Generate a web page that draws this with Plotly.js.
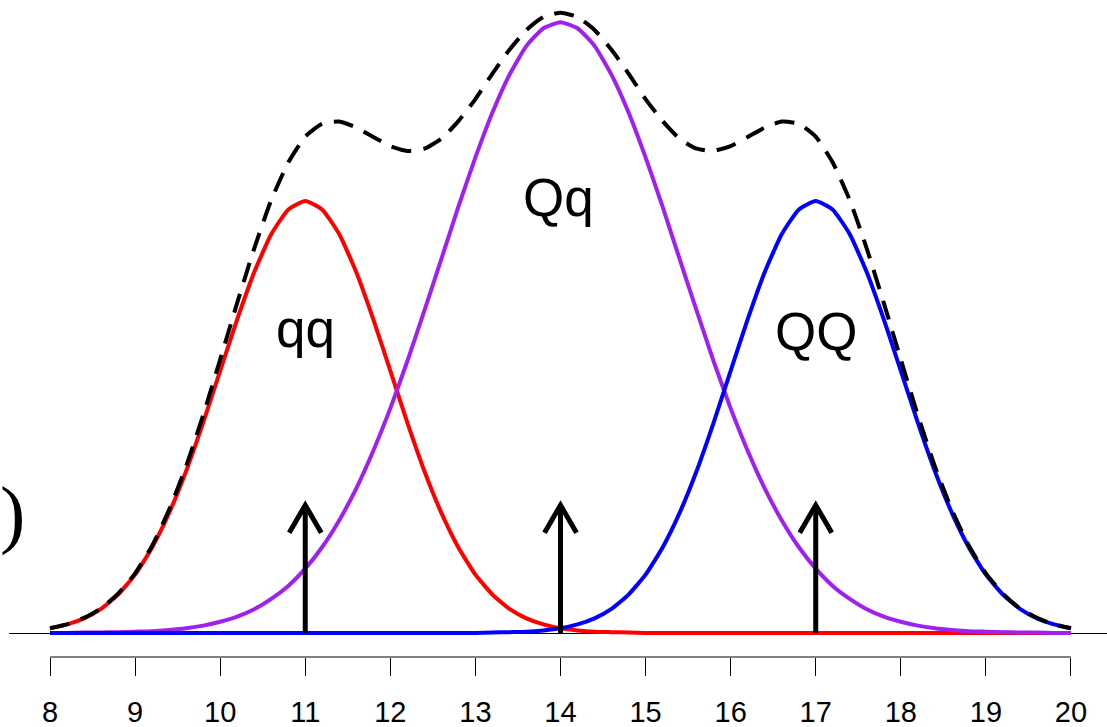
<!DOCTYPE html>
<html>
<head>
<meta charset="utf-8">
<script src="https://cdn.plot.ly/plotly-3.0.1.min.js"></script>
<style>
  html, body { margin: 0; padding: 0; background: #ffffff; }
  #chart { width: 1107px; height: 727px; }
</style>
</head>
<body>
<div id="chart"></div>
<script>
// Trait value grid shared by all curves
const traitX = [
  8.0, 8.2, 8.4, 8.6, 8.8, 9.0, 9.2, 9.4, 9.6, 9.8,
  10.0, 10.2, 10.4, 10.6, 10.8, 11.0, 11.2, 11.4, 11.6, 11.8,
  12.0, 12.2, 12.4, 12.6, 12.8, 13.0, 13.2, 13.4, 13.6, 13.8,
  14.0, 14.2, 14.4, 14.6, 14.8, 15.0, 15.2, 15.4, 15.6, 15.8,
  16.0, 16.2, 16.4, 16.6, 16.8, 17.0, 17.2, 17.4, 17.6, 17.8,
  18.0, 18.2, 18.4, 18.6, 18.8, 19.0, 19.2, 19.4, 19.6, 19.8,
  20.0
];

// Genotype qq
const qqDensity = [
  0.011, 0.020, 0.034, 0.056, 0.089, 0.135, 0.198, 0.278, 0.375, 0.487,
  0.607, 0.726, 0.835, 0.923, 0.980, 1.000, 0.980, 0.923, 0.835, 0.726,
  0.607, 0.487, 0.375, 0.278, 0.198, 0.135, 0.089, 0.056, 0.034, 0.020,
  0.011, 0.006, 0.003, 0.002, 0.001, 0.000, 0.000, 0.000, 0.000, 0.000,
  0.000, 0.000, 0.000, 0.000, 0.000, 0.000, 0.000, 0.000, 0.000, 0.000,
  0.000, 0.000, 0.000, 0.000, 0.000, 0.000, 0.000, 0.000, 0.000, 0.000,
  0.000
];

// Genotype Qq
const QqDensity = [
  0.000, 0.000, 0.001, 0.001, 0.002, 0.003, 0.004, 0.007, 0.011, 0.017,
  0.026, 0.038, 0.055, 0.079, 0.109, 0.149, 0.199, 0.261, 0.335, 0.422,
  0.520, 0.629, 0.746, 0.866, 0.987, 1.101, 1.205, 1.292, 1.359, 1.400,
  1.414, 1.400, 1.359, 1.292, 1.205, 1.101, 0.987, 0.866, 0.746, 0.629,
  0.520, 0.422, 0.335, 0.261, 0.199, 0.149, 0.109, 0.079, 0.055, 0.038,
  0.026, 0.017, 0.011, 0.007, 0.004, 0.003, 0.002, 0.001, 0.001, 0.000,
  0.000
];

// Genotype QQ
const QQDensity = [
  0.000, 0.000, 0.000, 0.000, 0.000, 0.000, 0.000, 0.000, 0.000, 0.000,
  0.000, 0.000, 0.000, 0.000, 0.000, 0.000, 0.000, 0.000, 0.000, 0.000,
  0.000, 0.000, 0.000, 0.000, 0.000, 0.000, 0.001, 0.002, 0.003, 0.006,
  0.011, 0.020, 0.034, 0.056, 0.089, 0.135, 0.198, 0.278, 0.375, 0.487,
  0.607, 0.726, 0.835, 0.923, 0.980, 1.000, 0.980, 0.923, 0.835, 0.726,
  0.607, 0.487, 0.375, 0.278, 0.198, 0.135, 0.089, 0.056, 0.034, 0.020,
  0.011
];

// Population mixture (all genotypes together)
const mixtureDensity = [
  0.011, 0.020, 0.035, 0.057, 0.091, 0.138, 0.202, 0.285, 0.386, 0.504,
  0.633, 0.764, 0.890, 1.002, 1.089, 1.149, 1.179, 1.184, 1.170, 1.148,
  1.127, 1.116, 1.121, 1.144, 1.185, 1.236, 1.295, 1.350, 1.396, 1.426,
  1.436, 1.426, 1.396, 1.350, 1.295, 1.236, 1.185, 1.144, 1.121, 1.116,
  1.127, 1.148, 1.170, 1.184, 1.179, 1.149, 1.089, 1.002, 0.890, 0.764,
  0.633, 0.504, 0.386, 0.285, 0.202, 0.138, 0.091, 0.057, 0.035, 0.020,
  0.011
];

// Genotypic values marked by arrows
const genotypeLabels = ["qq", "Qq", "QQ"];
const genotypeMeans = [11, 14, 17];
const arrowHeight = 0.296;

// Where each genotype name sits
const labelX = [11, 13.98, 17];
const labelY = [0.706, 1.007, 0.697];

// Axis ticks
const tickValues = [8, 9, 10, 11, 12, 13, 14, 15, 16, 17, 18, 19, 20];
const tickText = ["8", "9", "10", "11", "12", "13", "14", "15", "16", "17", "18", "19", "20"];

// ---- layout geometry ----
const W = 1107, H = 727;
const margin = { l: 9, r: 0, t: 0, b: 70 };
const xRange = [7.518, 20.4235];
const yRange = [-0.05556, 1.46528];
const plotW = W - margin.l - margin.r;
const plotH = H - margin.t - margin.b;
const pxPerX = plotW / (xRange[1] - xRange[0]);
const pxPerY = plotH / (yRange[1] - yRange[0]);

// arrow head size in pixels (30 degree open head)
const headLenPx = 32;
const headDx = headLenPx * Math.sin(Math.PI / 6) / pxPerX;
const headDy = headLenPx * Math.cos(Math.PI / 6) / pxPerY;

const fontFamily = "Liberation Sans, Arial, sans-serif";
const curveShape = { shape: "spline", smoothing: 0.5 };

const traces = [
  { x: traitX, y: qqDensity, mode: "lines", line: Object.assign({ color: "#FF0000", width: 4 }, curveShape), hoverinfo: "skip" },
  { x: traitX, y: QqDensity, mode: "lines", line: Object.assign({ color: "#A020F0", width: 4 }, curveShape), hoverinfo: "skip" },
  { x: traitX, y: QQDensity, mode: "lines", line: Object.assign({ color: "#0000FF", width: 4 }, curveShape), hoverinfo: "skip" },
  { x: traitX, y: mixtureDensity, mode: "lines", line: Object.assign({ color: "#000000", width: 4, dash: "20px,12px" }, curveShape), hoverinfo: "skip" }
];

genotypeMeans.forEach(function (m) {
  traces.push({
    x: [m, m, null, m - headDx, m, m + headDx],
    y: [0, arrowHeight, null, arrowHeight - headDy, arrowHeight, arrowHeight - headDy],
    mode: "lines",
    line: { color: "#000000", width: 5 },
    hoverinfo: "skip"
  });
});

const annotations = genotypeLabels.map(function (t, i) {
  return {
    x: labelX[i], y: labelY[i], xref: "x", yref: "y",
    text: t, showarrow: false, xanchor: "center", yanchor: "middle",
    font: { family: fontFamily, size: 53, color: "#000000" }
  };
});

// closing bracket of the side label at the left edge
annotations.push({
  x: (12 - margin.l) / plotW, y: (H - margin.b - 513) / plotH,
  xref: "paper", yref: "paper", text: ")", showarrow: false,
  xanchor: "center", yanchor: "middle",
  font: { family: "Liberation Serif, Times New Roman, serif", size: 76, color: "#000000" }
});

const layout = {
  width: W, height: H,
  margin: margin,
  paper_bgcolor: "#ffffff",
  plot_bgcolor: "#ffffff",
  showlegend: false,
  xaxis: {
    range: xRange, showgrid: false, zeroline: false, showline: false,
    tickmode: "array", tickvals: tickValues, ticktext: tickText,
    ticks: "outside", ticklen: 18, tickwidth: 1, tickcolor: "#000000",
    ticklabelstandoff: 11,
    tickfont: { family: fontFamily, size: 29, color: "#000000" },
    fixedrange: true
  },
  yaxis: {
    range: yRange, showgrid: false, showticklabels: false, ticks: "",
    showline: false, zeroline: true, zerolinecolor: "#000000", zerolinewidth: 1,
    fixedrange: true
  },
  shapes: [
    { type: "line", xref: "x", yref: "paper", x0: tickValues[0], x1: tickValues[tickValues.length - 1], y0: 0, y1: 0,
      line: { color: "#000000", width: 1 } }
  ],
  annotations: annotations
};

Plotly.newPlot("chart", traces, layout, { displayModeBar: false, staticPlot: true });
</script>
</body>
</html>
